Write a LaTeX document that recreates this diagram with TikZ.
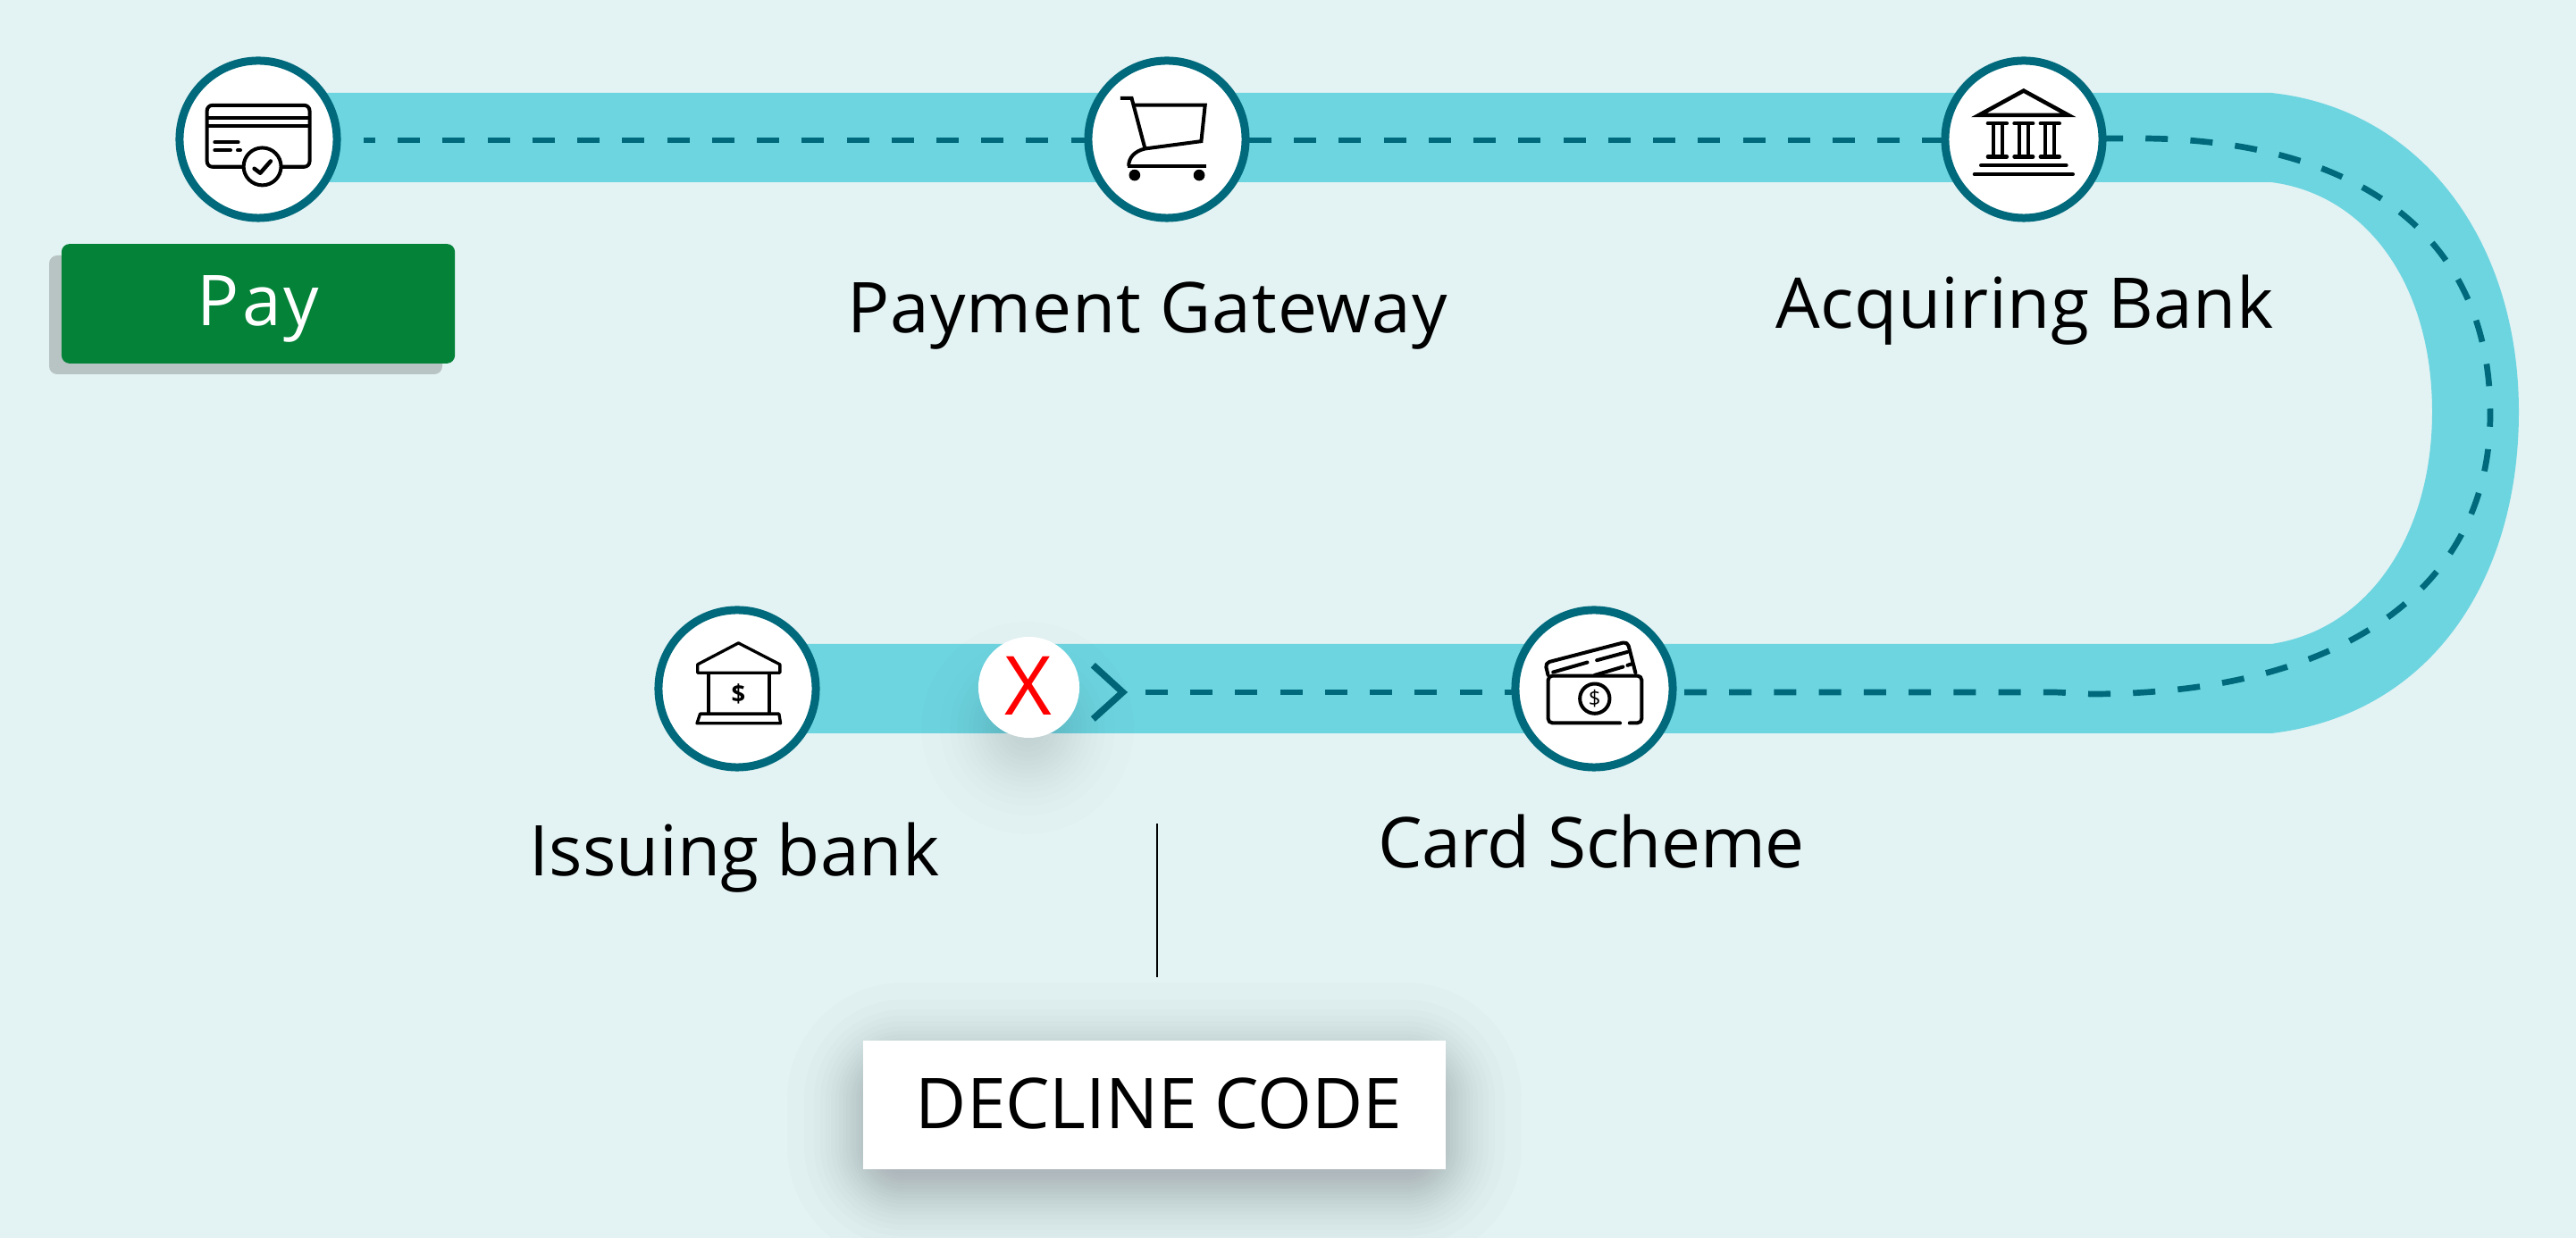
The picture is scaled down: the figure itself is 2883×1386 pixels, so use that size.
\documentclass[tikz,border=0pt]{standalone}
\usepackage{fontspec}
\setmainfont{Open Sans}[LetterSpace=1.3]
\newfontface\fpay{Open Sans}[LetterSpace=4]
\newfontface\facq{Open Sans}[LetterSpace=0.8]
\newfontface\fiss{Open Sans}[LetterSpace=0.2]
\newfontface\fcard{Open Sans}[LetterSpace=-0.6]
\newfontface\fdec{Open Sans}[LetterSpace=-0.2]
\definecolor{bgc}{HTML}{E3F2F3}
\definecolor{bandc}{HTML}{6DD5E0}
\definecolor{teal}{HTML}{006A7C}
\definecolor{payg}{HTML}{048238}
\definecolor{pays}{HTML}{B8C3C3}
\definecolor{shc}{HTML}{14141E}
\tikzset{
  stop/.style={circle,draw=teal,line width=.9mm,fill=white,minimum size=17.6mm,inner sep=0pt,outer sep=0pt},
  label/.style={anchor=base,inner sep=0pt,outer sep=0pt,text=black,font=\fontsize{22.3}{26}\selectfont},
  route/.style={draw=teal,line width=.67mm,dash pattern=on 2.5mm off 2.52mm},
  ico/.style={draw=black,line width=.4mm,line join=round,line cap=round},
  zoomthree/.style={x=0.0033333cm,y=-0.0033333cm},
}
\begin{document}
\begin{tikzpicture}[x=0.01cm,y=-0.01cm]
\useasboundingbox (0,0) rectangle (2883,1386);
\fill[bgc] (0,0) rectangle (2883,1386);
% band
\fill[bandc] (289,104) -- (2542,104) .. controls (2710,122) and (2819,270) .. (2819,461)
  .. controls (2819,650) and (2720,800) .. (2542,821) -- (825,821) -- (825,721) -- (2542,721)
  .. controls (2650,705) and (2722,600) .. (2722,461) .. controls (2722,320) and (2650,218) .. (2542,204)
  -- (289,204) -- cycle;
% coordinates of the dashed route
\coordinate (a1) at (407,157);
\coordinate (a2) at (1230,157);
\coordinate (b1) at (1398,157);
\coordinate (b2) at (2190,157);
\coordinate (c1) at (2351,155);
\coordinate (c2) at (2787,463);
\coordinate (d1) at (1282,775);
\coordinate (d2) at (1700,775);
\coordinate (e1) at (1885,775);
\coordinate (e2) at (2300,775);
\draw[route,dash phase=1.2mm] (a1) -- (a2);
\draw[route] (b1) -- (b2);
\draw[route] (c1) -- (2400,155) .. controls (2620,157) and (2787,250) .. (c2);
\draw[route] (e1) -- (e2) -- (2340,777) .. controls (2620,777) and (2787,660) .. (c2);
\draw[route] (d1) -- (d2);
% soft shadow of the X marker
\foreach \r in {119,98,87,79,72,66,61,56,51,47,42,37,33,27,21,14}
  \fill[shc,opacity=.0095] (1150,815) circle (\r);
% stops
\node[stop] (n1) at (289,156) {};
\node[stop] (n2) at (1306,156) {};
\node[stop] (n3) at (2265,156) {};
\node[stop] (n4) at (825,771) {};
\node[stop] (n5) at (1784,771) {};
% X marker
\node[circle,fill=white,minimum size=11.3mm,inner sep=0pt] (xm) at (1151.5,769.5) {};
\node[anchor=base,inner sep=0pt,text=red,font=\fontsize{26}{30}\selectfont] (xt) at (1150.5,801) {X};
\draw[draw=teal!95!black,line width=.75mm] (1223.3,744.7) -- (1256.5,775) -- (1223.3,805);
% labels
\node[label] (l2) at (1284,372.7) {Payment Gateway};
\node[label] (l3) at (2266,368) {\facq Acquiring Bank};
\node[label] (l4) at (822,980.7) {\fiss Issuing bank};
\node[label] (l5) at (1781,972) {\fcard Card Scheme};
% pay button
\fill[pays,rounded corners=.9mm] (55,286) rectangle (495,419);
\node[fill=payg,rounded corners=.9mm,minimum width=4.4cm,minimum height=1.337cm,inner sep=0pt] (pay) at (289,340) {};
\node[label,text=white] (payt) at (289,365) {\fpay Pay};
% decline code
\coordinate (vt) at (1295.4,922);
\coordinate (vb) at (1295.4,1093.7);
\draw[black,line width=.2mm] (vt) -- (vb);
\foreach \r in {85,66,55,48,42,36,31,27,23,19,15,12,8,5,2,-2,-5,-8,-12,-15,-19,-23,-27,-31,-36,-42,-48,-55,-66} {
  \pgfmathsetmacro{\cc}{max(\r+45,2)*0.1}
  \fill[shc,opacity=.012,rounded corners=\cc mm] ({966-\r},{1185-\r}) rectangle ({1618+\r},{1329+\r});
}
\node[fill=white,minimum width=6.52cm,minimum height=1.44cm,inner sep=0pt] (dc) at (1292,1237) {};
\node[label] (dct) at (1297,1264) {\fdec DECLINE CODE};
% icon: card with tick
\begin{scope}[shift={(40,40)},zoomthree]
  \draw[ico,rounded corners=.6mm] (576,234) rectangle (921,441);
  \draw[ico,line cap=butt] (576,275) -- (921,275) (576,303) -- (921,303);
  \draw[ico] (602,358) -- (681,358) (602,385) -- (655,385) (679,385) -- (688,385);
  \draw[ico,fill=white] (762,440) circle (63);
  \draw[ico,line width=.45mm] (735,447) -- (755,462) -- (790,422);
\end{scope}
% icon: cart
\begin{scope}[shift={(1180,50)},zoomthree]
  \draw[ico,line cap=butt,line join=miter] (222,180) -- (260,180) -- (305,350);
  \draw[ico,line cap=butt,line join=miter] (270,203) -- (507,203) -- (494,325) -- (305,350) .. controls (270,358) and (250,380) .. (250,408);
  \draw[ico,line cap=butt] (246,408) -- (512,408);
  \fill[black] (270,439) circle (19) (487,439) circle (19);
\end{scope}
% icon: bank
\begin{scope}[shift={(2160,50)},zoomthree]
  \draw[ico,line width=.45mm,line join=miter] (165,237) -- (315,155) -- (465,237) -- cycle;
  \draw[ico,line width=.45mm] (195,265) -- (258,265) (284,265) -- (346,265) (372,265) -- (435,265)
     (195,377) -- (258,377) (284,377) -- (346,377) (372,377) -- (435,377)
     (172,406) -- (458,406) (150,436) -- (480,436);
  \draw[ico,line width=.45mm,line cap=butt] (214,265) -- (214,377) (243,265) -- (243,377)
     (300,265) -- (300,377) (331,265) -- (331,377) (387,265) -- (387,377) (418,265) -- (418,377);
\end{scope}
% icon: issuing bank
\begin{scope}[shift={(720,670)},x=0.0035714cm,y=-0.0033333cm]
  \draw[ico,line width=.33mm] (170,222) -- (298,150) -- (428,222) -- (428,250) -- (170,250) -- cycle;
  \draw[ico,line width=.33mm,line cap=butt] (204,250) -- (204,385) (395,250) -- (395,385);
  \draw[ico,line width=.33mm] (178,388) -- (425,388) -- (430,420) -- (168,420) -- cycle;
  \node[inner sep=0pt,text=black,font=\fontsize{7.8}{10}\selectfont\bfseries] (d1s) at (298,320) {\$};
\end{scope}
% icon: wallet with cards
\begin{scope}[shift={(1670,670)},zoomthree]
  \draw[ico,rounded corners=.5mm] (188,258) -- (178,217) -- (455,145) -- (482,250);
  \draw[ico] (205,248) -- (320,215) (352,208) -- (455,180) (345,258) -- (440,230) (455,225) -- (470,220);
  \draw[ico,rounded corners=.5mm] (430,419) -- (188,419) -- (188,260) -- (503,260) -- (503,419) -- (462,419);
  \draw[ico] (345,337) circle (50);
  \node[inner sep=0pt,text=black,font=\fontsize{6.8}{8}\selectfont] (d2s) at (345,337) {\$};
\end{scope}
\end{tikzpicture}
\end{document}
